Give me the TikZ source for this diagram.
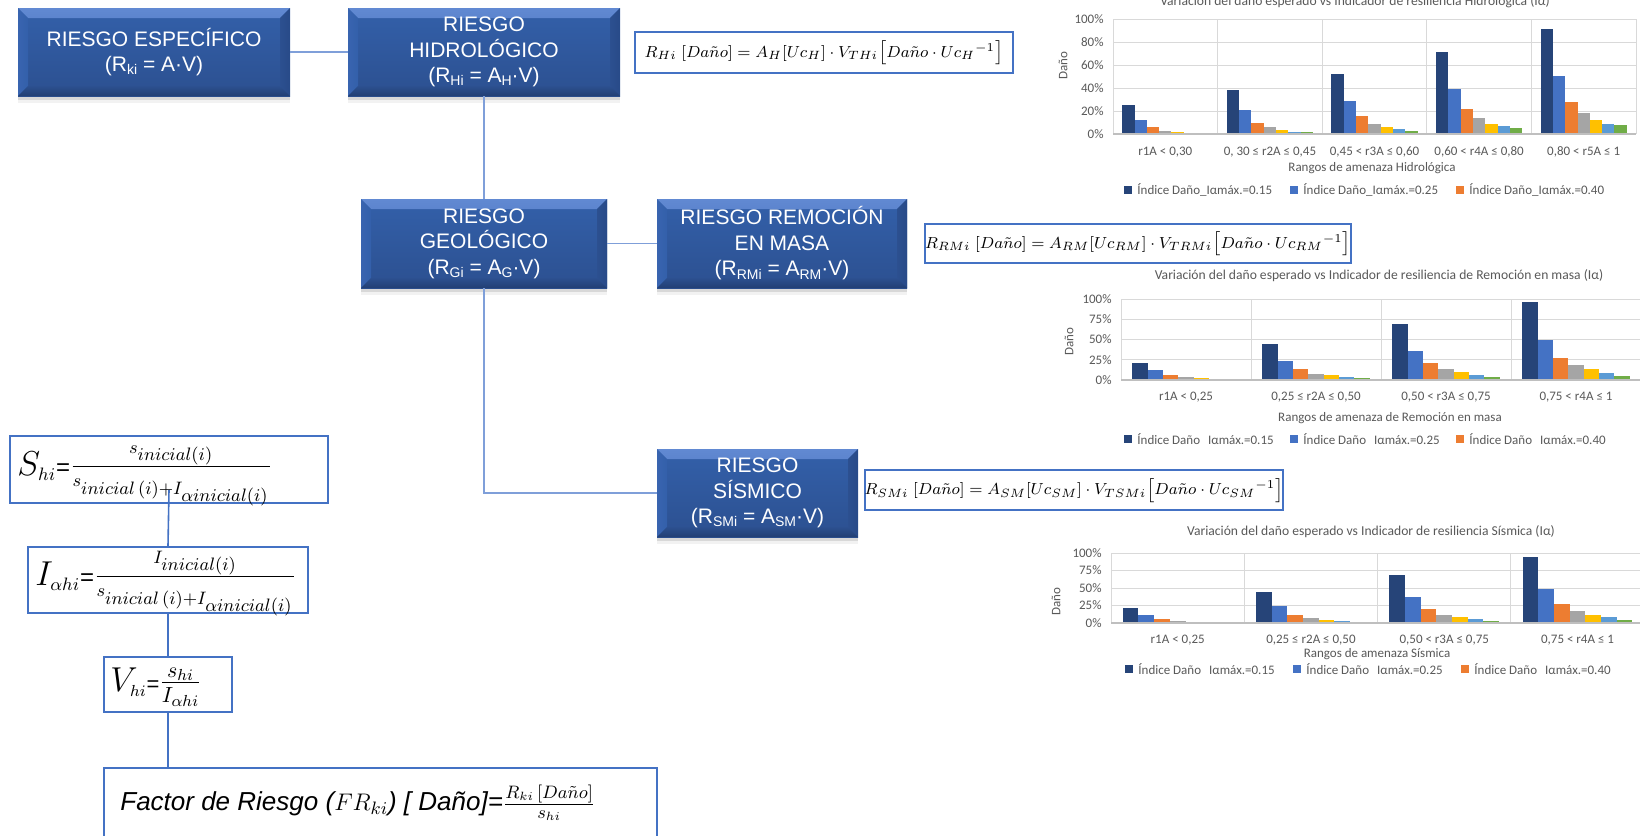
\documentclass[tikz,border=0pt]{standalone}
\usepackage[no-math]{fontspec}
\setmainfont{Liberation Sans}
\newfontfamily\chartfont{Carlito}
\usetikzlibrary{shadows}

% box and line colours
\definecolor{boxtop}{HTML}{3360AA}
\definecolor{boxbot}{HTML}{2C5090}
\definecolor{bevhi}{HTML}{6189D2}
\definecolor{bevhib}{HTML}{3762AD}
\definecolor{bevside}{HTML}{3964B0}
\definecolor{bevdark}{HTML}{284A88}
\definecolor{bevlow}{HTML}{223F73}
\definecolor{linkblue}{HTML}{7F9FD9}
\definecolor{framblue}{HTML}{4472C4}
% chart colours
\definecolor{ser1}{HTML}{264478}
\definecolor{ser2}{HTML}{4472C4}
\definecolor{ser3}{HTML}{ED7D31}
\definecolor{ser4}{HTML}{A5A5A5}
\definecolor{ser5}{HTML}{FFC000}
\definecolor{ser6}{HTML}{5B9BD5}
\definecolor{ser7}{HTML}{70AD47}
\definecolor{gridgray}{HTML}{D9D9D9}
\definecolor{axisgray}{HTML}{BFBFBF}
\definecolor{txtgray}{HTML}{595959}

% lowered subscript used inside the blue boxes
\newcommand\lowsub[1]{\raisebox{-1.6pt}{\fontsize{7}{8}\selectfont #1}}

% bevelled faces of the blue boxes
\newcommand\bevelfaces{%
  \shade[top color=bevhi, bottom color=bevhib]
    (path picture bounding box.north west) -- (path picture bounding box.north east)
    -- ([xshift=-5pt,yshift=-5pt]path picture bounding box.north east)
    -- ([xshift=5pt,yshift=-5pt]path picture bounding box.north west) -- cycle;
  \shade[left color=bevside, right color=boxtop]
    (path picture bounding box.north west)
    -- ([xshift=5pt,yshift=-5pt]path picture bounding box.north west)
    -- ([xshift=5pt,yshift=5pt]path picture bounding box.south west)
    -- (path picture bounding box.south west) -- cycle;
  \shade[left color=boxbot, right color=bevdark]
    (path picture bounding box.north east)
    -- ([xshift=-5pt,yshift=-5pt]path picture bounding box.north east)
    -- ([xshift=-5pt,yshift=5pt]path picture bounding box.south east)
    -- (path picture bounding box.south east) -- cycle;
  \shade[top color=boxbot, bottom color=bevlow]
    (path picture bounding box.south west)
    -- ([xshift=5pt,yshift=5pt]path picture bounding box.south west)
    -- ([xshift=-5pt,yshift=5pt]path picture bounding box.south east)
    -- (path picture bounding box.south east) -- cycle;
}

% grouped bar chart; geometry comes from \chL \chZ \chT \chW \chR \chTicks \chSeps \chC
\newcommand{\drawchart}[3]{%
  \foreach \p in \chTicks {%
    \pgfmathsetmacro\yy{\chZ-(\chZ-\chT)*\p/100}
    \draw[gridgray, line width=0.5pt] (\chL,\yy) -- (\chR,\yy);
    \node[ticklbl, anchor=east] (#1tick\p) at (\chL-9,\yy) {\p\%};
  }
  \foreach \g in \chSeps {%
    \draw[gridgray, line width=0.5pt] (\chL+\g*\chW,\chT) -- (\chL+\g*\chW,\chZ);
  }
  \foreach \vals [count=\g] in {#2} {%
    \foreach \v [count=\k] in \vals {%
      \pgfmathsetmacro\xa{\chL+(\g-1)*\chW+(\k-0.25)*\chW/8.5}
      \pgfmathsetmacro\xb{\xa+\chW/8.5}
      \pgfmathsetmacro\yb{\chZ-(\chZ-\chT)*\v/100}
      \fill[fill=ser\k] (\xa,\chZ) rectangle (\xb,\yb);
    }
  }
  \draw[axisgray, line width=0.6pt] (\chL,\chZ) -- (\chR,\chZ);
  \foreach \lab [count=\g] in {#3} {%
    \node[ticklbl] (#1cat\g) at (\chL+\g*\chW-0.5*\chW,\chC) {\lab};
  }
}

\begin{document}
\begin{tikzpicture}[x=0.5pt, y=-0.5pt,
  riskbox/.style={rectangle, top color=boxtop, bottom color=boxbot, text=white,
    align=center, inner sep=0pt,
    font=\fontsize{10.5}{12.75}\selectfont,
    drop shadow={shadow xshift=0pt, shadow yshift=-2pt, opacity=0.22},
    drop shadow={shadow xshift=0pt, shadow yshift=-3.5pt, opacity=0.10},
    path picture={\bevelfaces}},
  formbox/.style={rectangle, draw=framblue, line width=1pt, fill=white, inner sep=0pt},
  eqfont/.style={font=\fontsize{8.3}{10}\selectfont},
  toplink/.style={draw=linkblue, line width=0.8pt},
  leftlink/.style={draw=framblue, line width=0.8pt},
  ticklbl/.style={font=\chartfont\fontsize{6.5}{7.5}\selectfont, text=txtgray, inner sep=0pt},
  chtitle/.style={font=\chartfont\fontsize{6.8}{8}\selectfont, text=txtgray, inner sep=0pt}
]
\useasboundingbox (0,0) rectangle (1640,836);
\fill[white] (0,0) rectangle (1640,836);

% ---------------- risk tree ----------------
\node[riskbox, minimum width=136pt, minimum height=44pt] (esp) at (154,52)
  {RIESGO ESPECÍFICO\\(R\lowsub{ki} = A·V)};
\node[riskbox, minimum width=136pt, minimum height=44pt] (hid) at (484,52)
  {RIESGO\\HIDROLÓGICO\\(R\lowsub{Hi} = A\lowsub{H}·V)};
\node[riskbox, minimum width=123pt, minimum height=44.5pt] (geo) at (484,243.5)
  {RIESGO\\GEOLÓGICO\\(R\lowsub{Gi} = A\lowsub{G}·V)};
\node[riskbox, minimum width=125pt, minimum height=44.5pt] (rem) at (782,243.5)
  {RIESGO REMOCIÓN\\EN MASA\\(R\lowsub{RMi} = A\lowsub{RM}·V)};
\node[riskbox, minimum width=100.5pt, minimum height=44pt] (sis) at (757.5,493)
  {RIESGO\\SÍSMICO\\(R\lowsub{SMi} = A\lowsub{SM}·V)};

\draw[toplink] (esp.east) -- (hid.west);
\draw[toplink] (hid.south) -- (geo.north);
\draw[toplink] (geo.east) -- (rem.west);
\draw[toplink] (geo.south) |- (sis.west);

% ---------------- risk equations ----------------
\node[formbox, eqfont, minimum width=189pt, minimum height=20.5pt] (fH) at (824,52.5)
  {$R_{Hi}\ [Da\tilde{n}o] = A_H[Uc_H]\cdot V_{THi}\bigl[Da\tilde{n}o\cdot Uc_H{}^{-1}\bigr]$};
\node[formbox, eqfont, minimum width=212pt, minimum height=19.5pt] (fRM) at (1138,243.5)
  {$R_{RMi}\ [Da\tilde{n}o] = A_{RM}[Uc_{RM}]\cdot V_{TRMi}\bigl[Da\tilde{n}o\cdot Uc_{RM}{}^{-1}\bigr]$};
\node[formbox, eqfont, minimum width=209pt, minimum height=20pt] (fSM) at (1074,490)
  {$R_{SMi}\ [Da\tilde{n}o] = A_{SM}[Uc_{SM}]\cdot V_{TSMi}\bigl[Da\tilde{n}o\cdot Uc_{SM}{}^{-1}\bigr]$};

% ---------------- resilience column ----------------
\node[formbox, minimum width=159pt, minimum height=33.5pt] (shi) at (169,469.5) {};
\node[anchor=base west, inner sep=0pt] (shitxt) at (17,475)
  {\fontsize{18}{20}\selectfont $S_{\scriptscriptstyle hi}$\fontsize{12}{12}\selectfont=\fontsize{18}{20}\selectfont$\frac{\scriptscriptstyle s_{inicial(i)}}{\scriptscriptstyle s_{inicial\,(i)+I_{\alpha inicial(i)}}}$};
\node[formbox, minimum width=140pt, minimum height=33pt] (iah) at (168,580) {};
\node[anchor=base west, inner sep=0pt] (iahtxt) at (35,585)
  {\fontsize{18}{20}\selectfont $I_{\scriptscriptstyle \alpha hi}$\fontsize{12}{12}\selectfont=\fontsize{18}{20}\selectfont$\frac{\scriptscriptstyle I_{inicial(i)}}{\scriptscriptstyle s_{inicial\,(i)+I_{\alpha inicial(i)}}}$};
\node[formbox, minimum width=64pt, minimum height=27.5pt] (vhi) at (168,684.5) {};
\node[anchor=base west, inner sep=0pt] (vhitxt) at (110,691)
  {\fontsize{16}{18}\selectfont $V_{\scriptscriptstyle hi}$\fontsize{11}{11}\selectfont=\fontsize{16}{18}\selectfont$\frac{s_{hi}}{I_{\alpha hi}}$};
\node[formbox, minimum width=276.5pt, minimum height=41pt] (fac) at (380.5,809) {};
\node[anchor=base west, inner sep=0pt] (factxt) at (120,810)
  {\fontsize{13}{15}\selectfont\itshape Factor de Riesgo ($FR_{ki}$) [ Daño]=$\frac{R_{ki}\,[Da\tilde{n}o]}{s_{hi}}$};

\draw[leftlink] ([yshift=7pt]shi.south) -- (iah.north);
\draw[leftlink] (iah.south) -- (vhi.north);
\draw[leftlink] (vhi.south) -- (vhi.south |- fac.north);

% ---------------- chart: hydrological ----------------
\def\chL{1113}\def\chZ{134}\def\chT{19}\def\chW{104.6}\def\chR{1636}
\def\chTicks{0,20,40,60,80,100}\def\chSeps{0,1,2,3,4,5}\def\chC{152}
\drawchart{hy}{{25,12.5,6,3,1.5,0.8,0.8},{38.5,20.5,10,6,3.5,2,1.5},{52,29,15.5,9,6,4.5,3},{71,39.5,22,14,9,7,5},{91,50.5,27.5,18,12.5,9,7.5}}
  {{r1A < 0,30},{0, 30 ≤ r2A ≤ 0,45},{0,45 < r3A ≤ 0,60},{0,60 < r4A ≤ 0,80},{0,80 < r5A ≤ 1}}
\node[chtitle, anchor=base] (hytitle) at (1355,5) {Variación del daño esperado vs Indicador de resiliencia Hidrológica (Iα)};
\node[ticklbl, rotate=90] (hyaxy) at (1063,66) {Daño};
\node[ticklbl] (hyaxx) at (1372,168) {Rangos de amenaza Hidrológica};
\fill[ser1] (1124,186) rectangle (1132,194);
\node[ticklbl, anchor=west] (hyleg1) at (1137,190) {Índice Daño\_Iαmáx.=0.15};
\fill[ser2] (1290,186) rectangle (1298,194);
\node[ticklbl, anchor=west] (hyleg2) at (1303,190) {Índice Daño\_Iαmáx.=0.25};
\fill[ser3] (1456,186) rectangle (1464,194);
\node[ticklbl, anchor=west] (hyleg3) at (1469,190) {Índice Daño\_Iαmáx.=0.40};

% ---------------- chart: mass movement ----------------
\def\chL{1121}\def\chZ{380}\def\chT{299}\def\chW{130}\def\chR{1641}
\def\chTicks{0,25,50,75,100}\def\chSeps{0,1,2,3,4}\def\chC{397}
\drawchart{rm}{{21,12,6,4,2.5,1.5,1.5},{44,24,13,8,6,3.5,2},{69,36,21,13,9.5,6,4},{96,50,27.5,18.5,13,8.5,5}}
  {{r1A < 0,25},{0,25 ≤ r2A ≤ 0,50},{0,50 < r3A ≤ 0,75},{0,75 < r4A ≤ 1}}
\node[chtitle] (rmtitle) at (1379,276) {Variación del daño esperado vs Indicador de resiliencia de Remoción en masa (Iα)};
\node[ticklbl, rotate=90] (rmaxy) at (1069,342) {Daño};
\node[ticklbl] (rmaxx) at (1390,418) {Rangos de amenaza de Remoción en masa};
\fill[ser1] (1124,435) rectangle (1132,443);
\node[ticklbl, anchor=west] (rmleg1) at (1137,439) {Índice Daño\hspace{4pt}Iαmáx.=0.15};
\fill[ser2] (1290,435) rectangle (1298,443);
\node[ticklbl, anchor=west] (rmleg2) at (1303,439) {Índice Daño\hspace{4pt}Iαmáx.=0.25};
\fill[ser3] (1456,435) rectangle (1464,443);
\node[ticklbl, anchor=west] (rmleg3) at (1469,439) {Índice Daño\hspace{4pt}Iαmáx.=0.40};

% ---------------- chart: seismic ----------------
\def\chL{1111}\def\chZ{623}\def\chT{553}\def\chW{133.3}\def\chR{1644}
\def\chTicks{0,25,50,75,100}\def\chSeps{0,1,2,3,4}\def\chC{640}
\drawchart{sm}{{22,11,6,3.5,2,0,0},{44,24,12,7,4.5,3,0},{69,37,20,12,8,6,3},{95,49,27,17.5,12,8.5,4.5}}
  {{r1A < 0,25},{0,25 ≤ r2A ≤ 0,50},{0,50 < r3A ≤ 0,75},{0,75 < r4A ≤ 1}}
\node[chtitle] (smtitle) at (1371,532) {Variación del daño esperado vs Indicador de resiliencia Sísmica (Iα)};
\node[ticklbl, rotate=90] (smaxy) at (1056,602) {Daño};
\node[ticklbl] (smaxx) at (1377,654) {Rangos de amenaza Sísmica};
\fill[ser1] (1125,665) rectangle (1133,673);
\node[ticklbl, anchor=west] (smleg1) at (1138,669) {Índice Daño\hspace{4pt}Iαmáx.=0.15};
\fill[ser2] (1293,665) rectangle (1301,673);
\node[ticklbl, anchor=west] (smleg2) at (1306,669) {Índice Daño\hspace{4pt}Iαmáx.=0.25};
\fill[ser3] (1461,665) rectangle (1469,673);
\node[ticklbl, anchor=west] (smleg3) at (1474,669) {Índice Daño\hspace{4pt}Iαmáx.=0.40};

\end{tikzpicture}
\end{document}
